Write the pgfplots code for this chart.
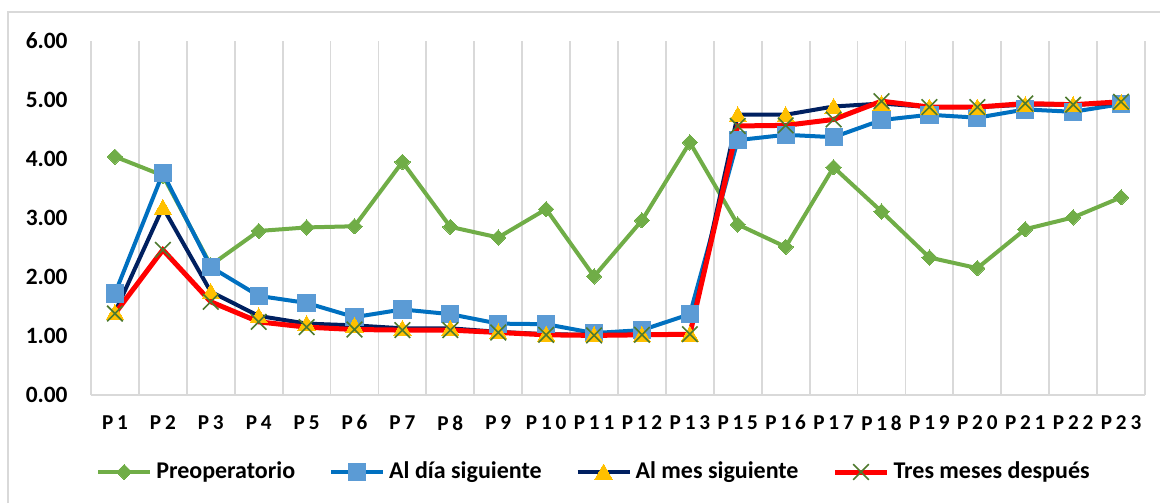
\documentclass[border=0pt]{standalone}
\usepackage{fontspec}
\setmainfont{Carlito}
\newfontfamily\spfont[LetterSpace=18]{Carlito}
\usepackage{pgfplots}
\pgfplotsset{compat=1.18}

\definecolor{cGreen}{HTML}{70AD47}
\definecolor{cBlueL}{HTML}{0070C0}
\definecolor{cBlueM}{HTML}{5B9BD5}
\definecolor{cNavy}{HTML}{002060}
\definecolor{cGold}{HTML}{FFC000}
\definecolor{cRed}{HTML}{FF0000}
\definecolor{cX}{HTML}{4E7A2E}
\definecolor{cGrid}{HTML}{D9D9D9}

\begin{document}
\begin{tikzpicture}
\useasboundingbox (0,0) rectangle (580pt,251.5pt);
\draw[cGrid, line width=0.8pt] (4pt,0) -- (4pt,245.5pt) -- (580pt,245.5pt);
\begin{axis}[
	at={(45.5pt,54pt)}, anchor=south west,
	scale only axis, width=527pt, height=177pt,
	xmin=0.5, xmax=22.5, ymin=0, ymax=6,
	xtick={1,...,22},
	xticklabels={P1,P2,P3,P4,P5,P6,P7,P8,P9,P10,P11,P12,P13,P15,P16,P17,P18,P19,P20,P21,P22,P23},
	minor xtick={0.5,1.5,...,22.5},
	xminorgrids, minor grid style={cGrid, line width=0.9pt},
	ytick={0,1,...,6},
	major tick length=0pt, minor tick length=0pt,
	axis x line*=bottom, axis y line*=left,
	axis line style={cGrid, line width=1pt},
	/pgf/number format/assume math mode=true,
	yticklabel={\pgfmathprintnumber[fixed,fixed zerofill,precision=2]{\tick}},
	yticklabel style={font=\fontsize{11.7}{13}\selectfont\bfseries, inner sep=0pt, xshift=-11.5pt},
	xticklabel style={font=\fontsize{10.6}{12}\spfont\bfseries, inner sep=0pt, anchor=north, yshift=-10pt},
	legend columns=4,
	legend style={at={(0.5,0)}, anchor=center, xshift=-11.5pt, yshift=-38.5pt,
		draw=none, font=\fontsize{12}{14}\selectfont\bfseries,
		/tikz/every even column/.append style={column sep=15pt},
		nodes={inner sep=2pt}},
	legend image code/.code={\draw[mark repeat=2,mark phase=2,#1] plot coordinates {(0pt,0pt)(13pt,0pt)(26pt,0pt)};},
]
\addplot[cGreen, line width=2pt, mark=square*, mark size=2.7pt,
	mark options={rotate=45, fill=cGreen, draw=cGreen, line width=0pt}] coordinates {
	(1,4.04) (2,3.72) (3,2.20) (4,2.78) (5,2.84) (6,2.86) (7,3.95) (8,2.85) (9,2.67) (10,3.15) (11,2.01)
	(12,2.96) (13,4.28) (14,2.89) (15,2.51) (16,3.86) (17,3.11) (18,2.33) (19,2.15) (20,2.81) (21,3.01) (22,3.35)};
\addlegendentry{Preoperatorio}
\addplot[cBlueL, line width=2pt, mark=square*, mark size=4.3pt,
	mark options={fill=cBlueM, draw=cBlueM, line width=0pt}] coordinates {
	(1,1.72) (2,3.76) (3,2.17) (4,1.68) (5,1.56) (6,1.32) (7,1.45) (8,1.37) (9,1.21) (10,1.20) (11,1.05)
	(12,1.10) (13,1.37) (14,4.32) (15,4.41) (16,4.37) (17,4.66) (18,4.75) (19,4.70) (20,4.84) (21,4.80) (22,4.93)};
\addlegendentry{Al día siguiente}
\addplot[cNavy, line width=2pt, mark=triangle*, mark size=5pt,
	mark options={fill=cGold, draw=cGold, line width=0pt, yshift=-1pt}] coordinates {
	(1,1.40) (2,3.18) (3,1.75) (4,1.34) (5,1.21) (6,1.18) (7,1.13) (8,1.13) (9,1.07) (10,1.03) (11,1.02)
	(12,1.02) (13,1.03) (14,4.75) (15,4.75) (16,4.89) (17,4.94) (18,4.88) (19,4.88) (20,4.92) (21,4.92) (22,4.95)};
\addlegendentry{Al mes siguiente}
\addplot[cRed, line width=2.5pt, mark=x, mark size=5.5pt,
	mark options={draw=cX, line width=0.8pt}] coordinates {
	(1,1.38) (2,2.46) (3,1.58) (4,1.24) (5,1.15) (6,1.11) (7,1.10) (8,1.10) (9,1.06) (10,1.02) (11,1.01)
	(12,1.02) (13,1.03) (14,4.56) (15,4.57) (16,4.67) (17,4.98) (18,4.88) (19,4.88) (20,4.94) (21,4.92) (22,4.97)};
\addlegendentry{Tres meses después}
\end{axis}
\end{tikzpicture}
\end{document}
